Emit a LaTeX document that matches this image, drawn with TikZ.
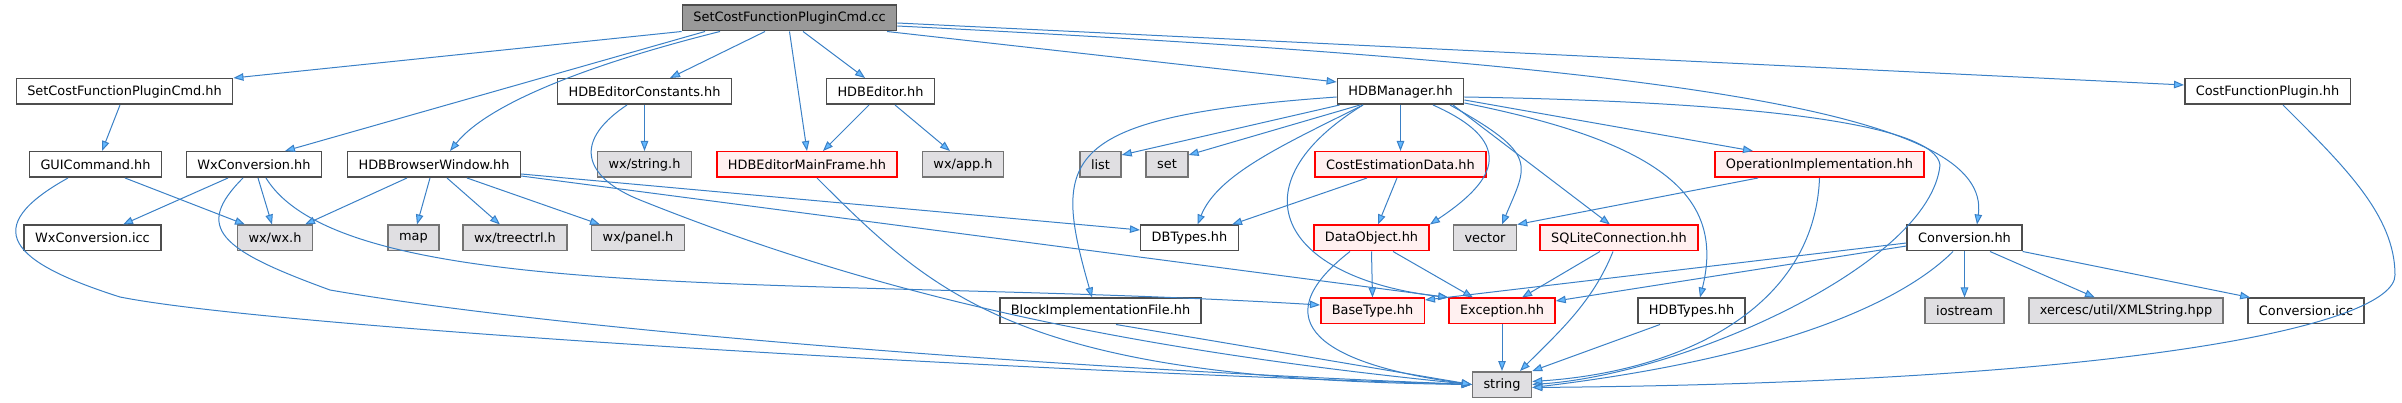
\documentclass[tikz,border=0pt]{standalone}
\usepackage{fontspec}
\setmainfont{DejaVu Sans}
\usetikzlibrary{arrows.meta}
\definecolor{link}{HTML}{3A80C6}
\definecolor{linkfill}{HTML}{63B8FF}
\definecolor{mainfill}{HTML}{999999}
\definecolor{border}{HTML}{4D4D4D}
\definecolor{sysborder}{HTML}{747474}
\definecolor{sysfill}{HTML}{E0DFE2}
\definecolor{redfill}{HTML}{FFF0F0}
\tikzset{file/.style={draw=border,fill=white,line width=1.5pt,minimum height=25.5pt,inner xsep=11pt,font=\fontsize{12.9}{15}\selectfont},
  sysfile/.style={file,draw=sysborder,fill=sysfill},
  redfile/.style={file,draw=red,fill=redfill},
  mainfile/.style={file,fill=mainfill},
  inc/.style={draw=link,line width=1pt,-{Triangle[length=10pt,width=7.5pt,fill=linkfill]}}}

\begin{document}
\begin{tikzpicture}[x=1pt,y=1pt]
\useasboundingbox (0,0) rectangle (2402,-403);
% row 1
\node[mainfile] (cc) at (789.5,-18) {SetCostFunctionPluginCmd.cc};
% row 2
\node[file] (cmdhh) at (124.5,-91.5) {SetCostFunctionPluginCmd.hh};
\node[file] (edconst) at (644.5,-91.5) {HDBEditorConstants.hh};
\node[file] (editor) at (880.5,-91.5) {HDBEditor.hh};
\node[file] (manager) at (1400.5,-91.5) {HDBManager.hh};
\node[file] (cfplugin) at (2267.5,-91.5) {CostFunctionPlugin.hh};
% row 3
\node[file] (guicmd) at (95.5,-164.5) {GUICommand.hh};
\node[file] (wxconv) at (254,-164.5) {WxConversion.hh};
\node[file] (browser) at (434,-164.5) {HDBBrowserWindow.hh};
\node[sysfile] (wxstring) at (644.5,-164.5) {wx/string.h};
\node[redfile] (mainframe) at (807,-164.5) {HDBEditorMainFrame.hh};
\node[sysfile] (wxapp) at (963,-164.5) {wx/app.h};
\node[sysfile] (list) at (1100.5,-164.5) {list};
\node[sysfile] (set) at (1167,-164.5) {set};
\node[redfile] (costest) at (1400.5,-164.5) {CostEstimationData.hh};
\node[redfile] (opimpl) at (1819.5,-164.5) {OperationImplementation.hh};
% row 4
\node[file] (wxconvicc) at (92.5,-238) {WxConversion.icc};
\node[sysfile] (wxwx) at (275,-238) {wx/wx.h};
\node[sysfile] (map) at (413.5,-238) {map};
\node[sysfile] (treectrl) at (515,-238) {wx/treectrl.h};
\node[sysfile] (panel) at (638,-238) {wx/panel.h};
\node[file] (dbtypes) at (1189.5,-238) {DBTypes.hh};
\node[redfile] (dataobj) at (1371.5,-238) {DataObject.hh};
\node[sysfile] (vector) at (1485,-238) {vector};
\node[redfile] (sqlite) at (1619,-238) {SQLiteConnection.hh};
\node[file] (conversion) at (1964.5,-238) {Conversion.hh};
% row 5
\node[file] (blockimpl) at (1100.5,-311) {BlockImplementationFile.hh};
\node[redfile] (basetype) at (1372.5,-311) {BaseType.hh};
\node[redfile] (exception) at (1502,-311) {Exception.hh};
\node[file] (hdbtypes) at (1691.5,-311) {HDBTypes.hh};
\node[sysfile] (iostream) at (1964.5,-311) {iostream};
\node[sysfile] (xerces) at (2126,-311) {xercesc/util/XMLString.hpp};
\node[file] (convicc) at (2306,-311) {Conversion.icc};
% row 6
\node[sysfile] (string) at (1502,-384.5) {string};

% includes of the .cc file
\draw[inc] (cc.south west) -- (cmdhh.north east);
\draw[inc] ([xshift=-84.5]cc.south) -- ([xshift=31]wxconv.north);
\draw[inc] ([xshift=-69.5]cc.south) .. controls +(-120,-30) and +(40,50) .. ([xshift=16]browser.north);
\draw[inc] ([xshift=-24.5]cc.south) -- ([xshift=25.5]edconst.north);
\draw[inc] (cc.south) -- (mainframe.north);
\draw[inc] ([xshift=13.5]cc.south) -- ([xshift=-15.5]editor.north);
\draw[inc] ([xshift=97.5]cc.south) -- ([yshift=9.5]manager.west);
\draw[inc] ([yshift=-5]cc.east) -- ([yshift=6.5]cfplugin.west);
\draw[inc] ([yshift=-8]cc.east) .. controls +(800,-40) and +(15,110) .. ([xshift=12.5]conversion.north);
% left part
\draw[inc] ([xshift=-4.5]cmdhh.south) -- ([xshift=6.5]guicmd.north);
\draw[inc] ([xshift=29.5]guicmd.south) -- ([xshift=-30]wxwx.north);
\draw[inc] ([xshift=-27.5]guicmd.south) .. controls +(-90,-50) and +(-110,35) .. (120,-297) .. controls +(150,-30) and +(-500,15) .. (string.west);
\draw[inc] ([xshift=-26]wxconv.south) -- ([xshift=30.5]wxconvicc.north);
\draw[inc] ([xshift=4]wxconv.south) -- ([xshift=-3]wxwx.north);
\draw[inc] ([xshift=-11]wxconv.south) .. controls +(-50,-50) and +(-110,40) .. (330,-290) .. controls +(200,-35) and +(-500,20) .. (string.west);
\draw[inc] ([xshift=12]wxconv.south) .. controls +(80,-130) and +(-500,30) .. ([yshift=6]basetype.west);
\draw[inc] ([xshift=-27]browser.south) -- ([xshift=30]wxwx.north);
\draw[inc] ([xshift=-4]browser.south) -- ([xshift=3.5]map.north);
\draw[inc] ([xshift=13]browser.south) -- ([xshift=-15]treectrl.north);
\draw[inc] ([xshift=33]browser.south) -- ([xshift=-38]panel.north);
\draw[inc] ([yshift=-9.5]browser.east) -- ([yshift=8]dbtypes.west);
\draw[inc] ([yshift=-11.5]browser.east) -- (exception.north west);
\draw[inc] (edconst.south) -- (wxstring.north);
\draw[inc] ([xshift=-17.5]edconst.south) .. controls +(-60,-40) and +(-50,20) .. (640,-200) .. controls +(200,-80) and +(-400,40) .. (string.west);
\draw[inc] ([xshift=-11.5]editor.south) -- ([xshift=16]mainframe.north);
\draw[inc] ([xshift=14.5]editor.south) -- ([xshift=-13]wxapp.north);
\draw[inc] ([xshift=10]mainframe.south) .. controls +(120,-120) and +(-450,5) .. (string.west);
% HDBManager.hh
\draw[inc] ([yshift=-5.5]manager.west) .. controls +(-280,-20) and +(-40,140) .. ([xshift=-8.5]blockimpl.north);
\draw[inc] ([xshift=3]manager.south west) -- ([yshift=9.5]list.east);
\draw[inc] ([xshift=-40.5]manager.south) -- ([yshift=9.5]set.east);
\draw[inc] ([xshift=-37.5]manager.south) .. controls +(-80,-40) and +(20,50) .. ([xshift=8]dbtypes.north);
\draw[inc] ([xshift=-37.5]manager.south) .. controls +(-130,-80) and +(-170,20) .. (exception.north west);
\draw[inc] (manager.south) -- (costest.north);
\draw[inc] ([xshift=32.5]manager.south) .. controls +(90,-40) and +(60,40) .. (dataobj.north east);
\draw[inc] ([xshift=49.5]manager.south) .. controls +(90,-50) and +(25,60) .. ([xshift=17]vector.north);
\draw[inc] ([xshift=52.5]manager.south) -- ([xshift=-9]sqlite.north);
\draw[inc] ([yshift=-5.5]manager.east) .. controls +(300,-5) and +(-5,40) .. (1940,-165) .. controls +(-10,-100) and +(150,10) .. (string.east);
\draw[inc] ([yshift=-8.5]manager.east) -- ([xshift=-66.5]opimpl.north);
\draw[inc] ([yshift=-11.5]manager.east) .. controls +(200,-40) and +(25,100) .. ([xshift=8.5]hdbtypes.north);
% lower part
\draw[inc] ([xshift=-33.5]costest.south) -- ([xshift=-7]dbtypes.north east);
\draw[inc] ([xshift=-3.5]costest.south) -- ([xshift=6.5]dataobj.north);
\draw[inc] (dataobj.south) -- (basetype.north);
\draw[inc] ([xshift=21.5]dataobj.south) -- ([xshift=-29]exception.north);
\draw[inc] ([xshift=-21.5]dataobj.south) .. controls +(-90,-70) and +(-150,20) .. (string.west);
\draw[inc] ([xshift=-61.5]opimpl.south) -- (vector.north east);
\draw[inc] (opimpl.south) .. controls +(-5,-130) and +(150,10) .. ([yshift=3]string.east);
\draw[inc] ([xshift=-19]sqlite.south) -- ([xshift=20]exception.north);
\draw[inc] ([xshift=-6]sqlite.south) .. controls +(-20,-50) and +(40,40) .. ([xshift=18]string.north);
\draw[inc] (exception.south) -- (string.north);
\draw[inc] (conversion.south) -- (iostream.north);
\draw[inc] ([xshift=25.5]conversion.south) -- ([xshift=-31]xerces.north);
\draw[inc] (conversion.south east) -- ([xshift=3]convicc.north west);
\draw[inc] ([xshift=-11.5]conversion.south) .. controls +(-50,-50) and +(250,30) .. ([yshift=-3]string.east);
\draw[inc] ([yshift=-8]conversion.west) -- ([yshift=10]exception.east);
\draw[inc] ([yshift=-5]conversion.west) -- ([yshift=11]basetype.east);
\draw[inc] ([xshift=15.5]blockimpl.south) -- (string.west);
\draw[inc] ([xshift=-31.5]hdbtypes.south) -- (string.north east);
\draw[inc] ([xshift=15.5]cfplugin.south) .. controls +(60,-60) and +(0,60) .. (2395,-275) .. controls +(0,-50) and +(600,5) .. ([yshift=-3]string.east);
\end{tikzpicture}
\end{document}
